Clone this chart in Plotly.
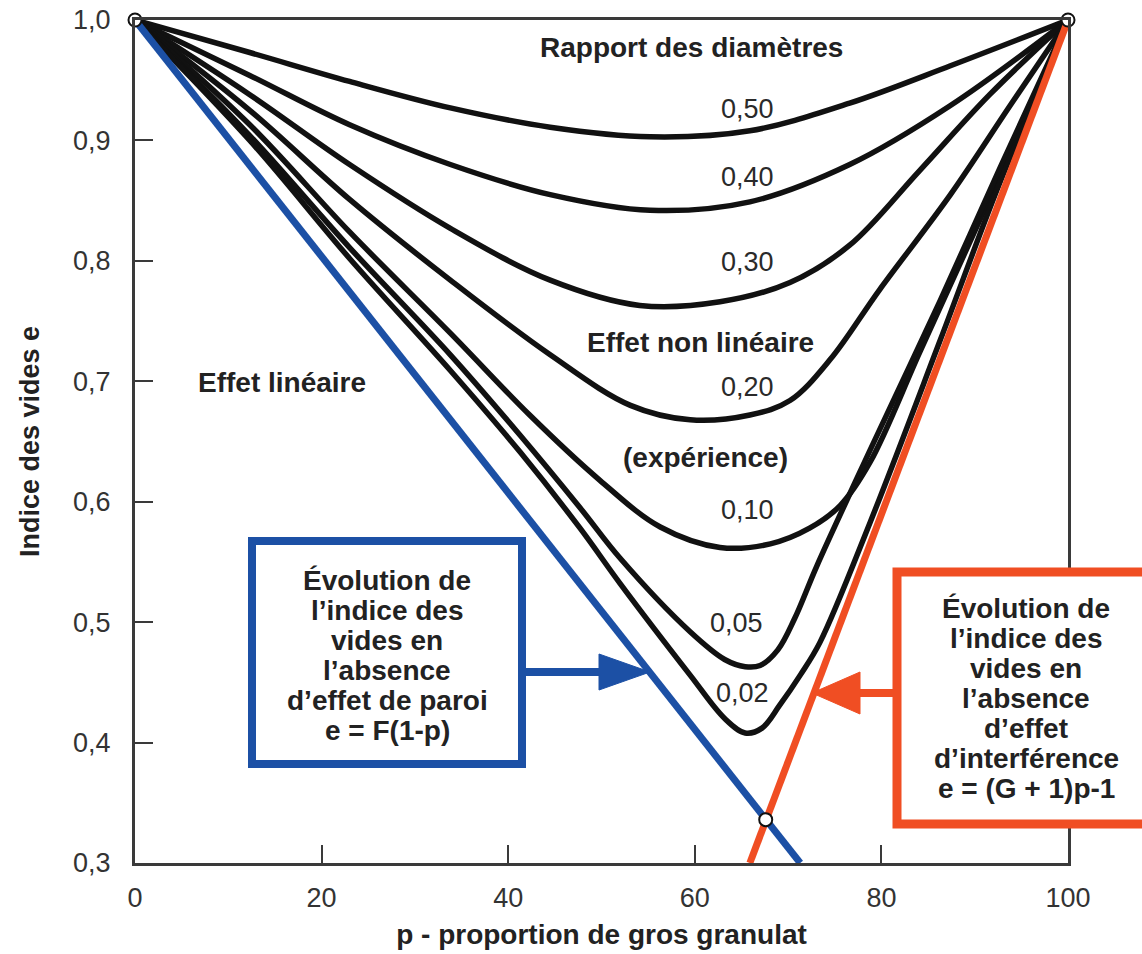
import plotly.graph_objects as go

# ---------------- data ----------------
curve_names = ["0,50", "0,40", "0,30", "0,20", "0,10", "0,05", "0,02"]

p_050 = [0, 12.3, 23.0, 33.8, 44.5, 55.2, 65.9, 76.6, 87.4, 100]
e_050 = [1.0, 0.973, 0.949, 0.927, 0.911, 0.903, 0.908, 0.931, 0.962, 1.0]

p_040 = [0, 12.3, 23.0, 33.8, 44.5, 55.2, 65.9, 76.6, 87.4, 100]
e_040 = [1.0, 0.954, 0.913, 0.880, 0.855, 0.842, 0.849, 0.880, 0.929, 1.0]

p_030 = [0, 12.3, 23.0, 33.8, 44.5, 54.1, 62.7, 70.2, 76.6, 84.1, 91.6, 100]
e_030 = [1.0, 0.938, 0.880, 0.827, 0.784, 0.763, 0.766, 0.782, 0.813, 0.875, 0.938, 1.0]

p_020 = [0, 12.3, 23.0, 33.8, 44.5, 53.1, 59.5, 65.9, 70.2, 74.5, 79.8, 87.4, 93.8, 100]
e_020 = [1.0, 0.925, 0.851, 0.784, 0.722, 0.680, 0.668, 0.672, 0.684, 0.718, 0.776, 0.855, 0.929, 1.0]

p_010 = [0, 12.3, 23.0, 33.8, 42.3, 49.8, 56.3, 62.7, 68.1, 72.3, 75.6, 78.8, 84.1, 89.5, 94.9, 100]
e_010 = [1.0, 0.913, 0.824, 0.740, 0.672, 0.618, 0.579, 0.562, 0.565, 0.578, 0.597, 0.633, 0.724, 0.816, 0.909, 1.0]

p_005 = [0, 12.3, 23.0, 33.8, 41.3, 47.7, 52.0, 59.5, 63.2, 65.4, 67.0, 68.9, 70.7, 73.1, 78.8, 86.3, 92.7, 100]
e_005 = [1.0, 0.904, 0.811, 0.722, 0.655, 0.595, 0.553, 0.492, 0.469, 0.463, 0.464, 0.477, 0.503, 0.547, 0.643, 0.767, 0.877, 1.0]

p_002 = [0, 12.3, 23.0, 33.8, 41.3, 47.7, 52.0, 59.5, 63.2, 65.4, 67.2, 69.1, 71.3, 73.4, 78.8, 86.3, 92.7, 100]
e_002 = [1.0, 0.900, 0.802, 0.709, 0.641, 0.578, 0.532, 0.456, 0.420, 0.408, 0.412, 0.431, 0.456, 0.483, 0.583, 0.734, 0.865, 1.0]

# labels of the curves (position of each label)
label_p = [65.7, 65.7, 65.7, 65.7, 65.7, 64.5, 65.1]
label_e = [0.926, 0.870, 0.799, 0.695, 0.593, 0.499, 0.441]

# straight lines
p_paroi = [0, 71.3]
e_paroi = [1.0, 0.3]
p_interf = [65.9, 100]
e_interf = [0.3, 1.0]

# marked points
p_points = [0, 100, 67.6]
e_points = [1.0, 1.0, 0.336]

x_ticks = [0, 20, 40, 60, 80, 100]
y_ticks = [0.3, 0.4, 0.5, 0.6, 0.7, 0.8, 0.9, 1.0]

blue_box_lines = ["Évolution de", "l’indice des", "vides en", "l’absence",
                  "d’effet de paroi", "e = F(1-p)"]
red_box_lines = ["Évolution de", "l’indice des", "vides en", "l’absence",
                 "d’effet", "d’interférence", "e = (G + 1)p-1"]

# ---------------- layout geometry ----------------
W, H = 1142, 954
L, R, T, B = 135, 1068, 20, 863
BLUE = "#1c50a5"
RED = "#f04e23"
FONT = "Liberation Sans, Arial, sans-serif"


def fx(px):
    return (px - L) / (R - L)


def fy(py):
    return (B - py) / (B - T)


fig = go.Figure()

curves = [(p_050, e_050), (p_040, e_040), (p_030, e_030), (p_020, e_020),
          (p_010, e_010), (p_005, e_005), (p_002, e_002)]
for (p, e), name in zip(curves, curve_names):
    fig.add_trace(go.Scatter(x=p, y=e, mode="lines", name=name,
                             line=dict(color="#111111", width=5.5, shape="spline", smoothing=1.0),
                             hoverinfo="skip"))

fig.add_trace(go.Scatter(x=p_interf, y=e_interf, mode="lines",
                         line=dict(color=RED, width=7), hoverinfo="skip"))
fig.add_trace(go.Scatter(x=p_paroi, y=e_paroi, mode="lines",
                         line=dict(color=BLUE, width=7), hoverinfo="skip"))
fig.add_trace(go.Scatter(x=p_points, y=e_points, mode="markers", cliponaxis=False,
                         marker=dict(size=13, color="white", line=dict(color="#111111", width=2)),
                         hoverinfo="skip"))

annotations = []
for name, p, e in zip(curve_names, label_p, label_e):
    annotations.append(dict(x=p, y=e, xref="x", yref="y", text=name, showarrow=False,
                            xanchor="center", yanchor="middle",
                            font=dict(family=FONT, size=27, color="#2a2a2a")))

bold_texts = [("Rapport des diamètres", 59.6, 0.977),
              ("Effet non linéaire", 60.6, 0.732),
              ("(expérience)", 61.1, 0.637),
              ("Effet linéaire", 15.8, 0.699)]
for txt, p, e in bold_texts:
    annotations.append(dict(x=p, y=e, xref="x", yref="y", text=txt, showarrow=False,
                            xanchor="center", yanchor="middle",
                            font=dict(family=FONT, size=28, color="#222222", weight="bold")))

# box texts
for i, line in enumerate(blue_box_lines):
    annotations.append(dict(x=fx(387), y=fy(580 + 30 * i), xref="paper", yref="paper",
                            text=line, showarrow=False, xanchor="center", yanchor="middle",
                            font=dict(family=FONT, size=28, color="#222222", weight="bold")))
for i, line in enumerate(red_box_lines):
    annotations.append(dict(x=fx(1026), y=fy(608 + 30 * i), xref="paper", yref="paper",
                            text=line, showarrow=False, xanchor="center", yanchor="middle",
                            font=dict(family=FONT, size=28, color="#222222", weight="bold")))

shapes = [
    # blue box
    dict(type="rect", xref="paper", yref="paper", x0=fx(252), x1=fx(522), y0=fy(764), y1=fy(541),
         line=dict(color=BLUE, width=8), fillcolor="white", layer="above"),
    # blue arrow
    dict(type="line", xref="paper", yref="paper", x0=fx(522), x1=fx(605), y0=fy(672), y1=fy(672),
         line=dict(color=BLUE, width=8), layer="above"),
    dict(type="path", xref="paper", yref="paper",
         path=f"M {fx(650)} {fy(672)} L {fx(599)} {fy(654)} L {fx(599)} {fy(690)} Z",
         line=dict(color=BLUE, width=1), fillcolor=BLUE, layer="above"),
    # red box
    dict(type="rect", xref="paper", yref="paper", x0=fx(897), x1=fx(1165), y0=fy(824), y1=fy(572),
         line=dict(color=RED, width=9), fillcolor="white", layer="above"),
    # red arrow
    dict(type="line", xref="paper", yref="paper", x0=fx(897), x1=fx(855), y0=fy(693), y1=fy(693),
         line=dict(color=RED, width=8), layer="above"),
    dict(type="path", xref="paper", yref="paper",
         path=f"M {fx(812)} {fy(693)} L {fx(860)} {fy(672)} L {fx(860)} {fy(714)} Z",
         line=dict(color=RED, width=1), fillcolor=RED, layer="above"),
]

axis_common = dict(showline=True, linecolor="#3a3a3a", linewidth=3, mirror=True,
                   ticks="inside", ticklen=18, tickwidth=2, tickcolor="#3a3a3a",
                   showgrid=False, zeroline=False, automargin=False,
                   tickfont=dict(family=FONT, size=27, color="#333333"))

fig.update_layout(
    width=W, height=H,
    margin=dict(l=L, r=W - R, t=T, b=H - B, autoexpand=False),
    paper_bgcolor="white", plot_bgcolor="white",
    showlegend=False,
    separators=", ",
    xaxis=dict(range=[0, 100], tickvals=x_ticks, ticklabelstandoff=9,
               title=dict(text="p - proportion de gros granulat", standoff=12,
                          font=dict(family=FONT, size=28, color="#222222", weight="bold")),
               **axis_common),
    yaxis=dict(range=[0.3, 1.0], tickvals=y_ticks, tickformat=".1f", ticklabelstandoff=16,
               title=dict(text="Indice des vides e", standoff=26,
                          font=dict(family=FONT, size=27, color="#222222", weight="bold")),
               **axis_common),
    annotations=annotations,
    shapes=shapes,
)

fig.write_html("out.html")
